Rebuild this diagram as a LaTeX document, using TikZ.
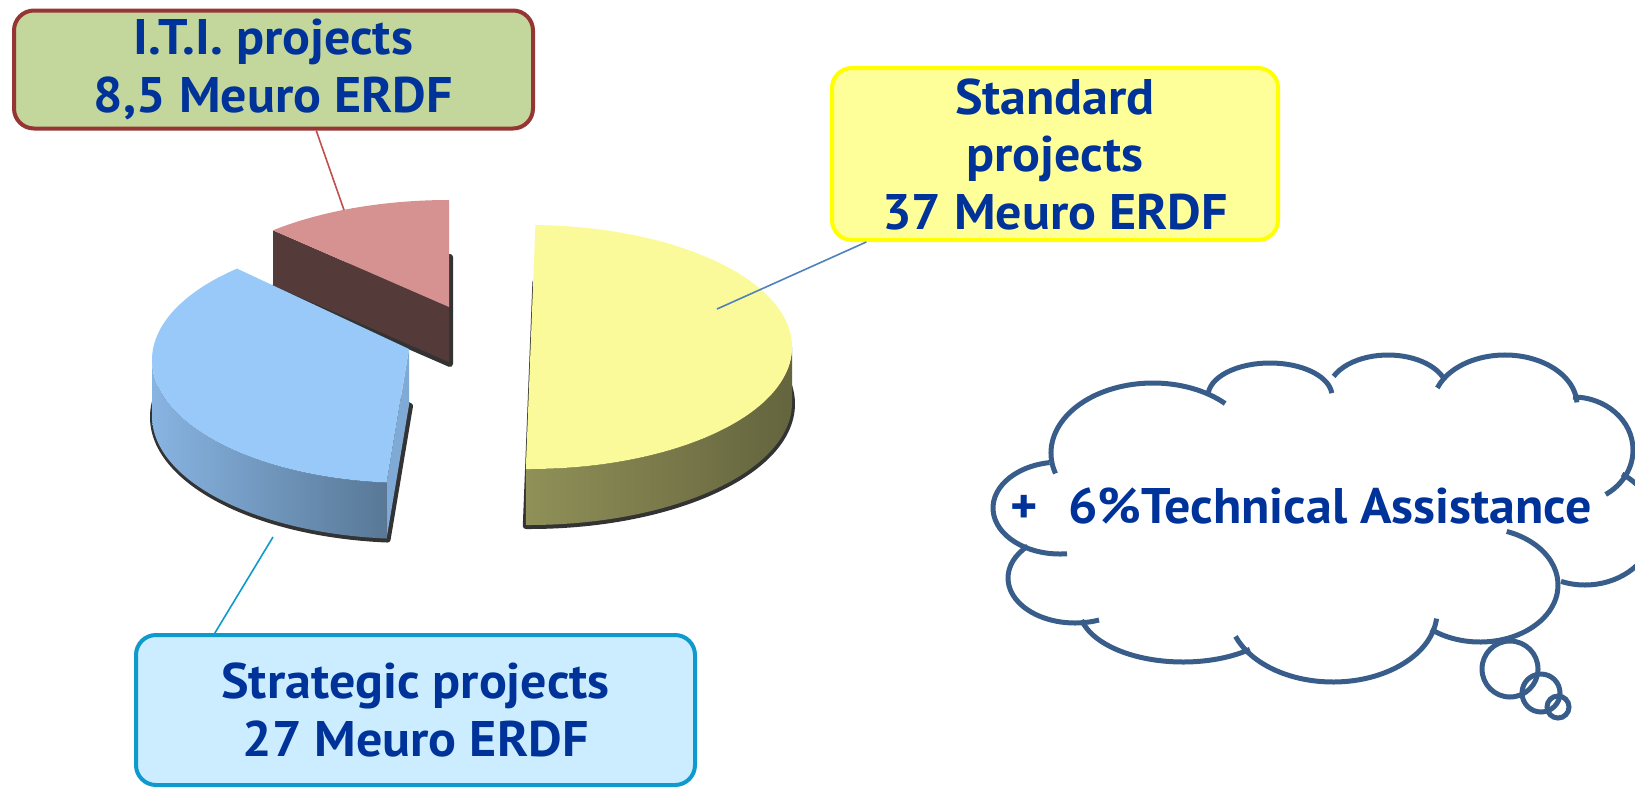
\documentclass[tikz,border=0pt]{standalone}
\usepackage{fontspec}
\setmainfont{PT Sans}[FakeStretch=1.04]
\usetikzlibrary{calc}
\definecolor{textblue}{HTML}{00339A}
\definecolor{itiedge}{HTML}{963634}
\definecolor{itifill}{HTML}{C3D69B}
\definecolor{stdedge}{HTML}{FFFF00}
\definecolor{stdfill}{HTML}{FFFF99}
\definecolor{stratedge}{HTML}{0E9ACD}
\definecolor{stratfill}{HTML}{CCECFF}
\definecolor{itiwire}{HTML}{C0504D}
\definecolor{stdwire}{HTML}{4F81BD}
\definecolor{cloudedge}{HTML}{385D8A}
\definecolor{yellowtop}{HTML}{FAFA9A}
\definecolor{yellowlight}{HTML}{909058}
\definecolor{yellowdark}{HTML}{64643E}
\definecolor{bluetop}{HTML}{99C9F8}
\definecolor{bluelight}{HTML}{88B4E2}
\definecolor{bluedark}{HTML}{587896}
\definecolor{blueface}{HTML}{80AAD6}
\definecolor{pinktop}{HTML}{D69291}
\definecolor{pinkface}{HTML}{553A3A}
\tikzset{
	label box/.style={draw, line width=4pt, rounded corners=20pt, align=center,
		inner sep=0pt, text=textblue,
		font=\fontsize{50}{57.5}\selectfont\bfseries},
	iti box/.style={label box, draw=itiedge, fill=itifill,
		minimum width=519pt, minimum height=118pt},
	std box/.style={label box, draw=stdedge, fill=stdfill,
		minimum width=446pt, minimum height=172pt},
	strat box/.style={label box, draw=stratedge, fill=stratfill,
		minimum width=559pt, minimum height=150pt},
	leader/.style={line width=1.6pt},
	cloud line/.style={draw=cloudedge, line width=5pt},
	cloud text/.style={inner sep=0pt, anchor=base, text=textblue,
		font=\fontsize{50}{57.5}\selectfont\bfseries},
	slice shadow/.style={fill=black!85, draw=black!80, line width=6pt, line join=round}
}
% top faces of the three slices
\newcommand\pinktopface{(449,307) -- ([shift={(449,318)}]228:263 and 118)
	arc[start angle=228, end angle=270, x radius=263, y radius=118] -- cycle}
\newcommand\bluetopface{(409,349) -- ([shift={(409,360)}]95:257 and 123)
	arc[start angle=95, end angle=228, x radius=257, y radius=123] -- cycle}
\newcommand\yellowtopface{([shift={(529,347)}]-88.6:263 and 122)
	arc[start angle=-88.6, end angle=90.7, x radius=263, y radius=122] -- cycle}

\begin{document}
\begin{tikzpicture}[x=1pt, y=-1pt]
   \useasboundingbox (0,0) rectangle (1635,788);

   % pie: back slice first
   \path[slice shadow, shift={(1,57)}] \pinktopface;
   \fill[pinkface] ([shift={(449,318)}]228:263 and 118) -- (449,307) -- ++(0,55)
      -- ([shift={(449,373)}]228:263 and 118) -- cycle;
   \fill[pinktop] \pinktopface;

   \path[slice shadow, shift={(1,57)}] \bluetopface;
   \shade[left color=bluelight, right color=bluedark]
      ([shift={(409,360)}]95:257 and 123) arc[start angle=95, end angle=180, x radius=257, y radius=123]
      -- ++(0,56) arc[start angle=180, end angle=95, x radius=257, y radius=123] -- cycle;
   \fill[blueface] (409,349) -- ([shift={(409,360)}]95:257 and 123) -- ++(0,56) -- (409,405) -- cycle;
   \fill[bluetop] \bluetopface;

   \path[slice shadow, shift={(0,57)}] \yellowtopface;
   \shade[left color=yellowlight, middle color=yellowdark, right color=yellowdark]
      ([shift={(529,347)}]0:263 and 122) arc[start angle=0, end angle=90.7, x radius=263, y radius=122]
      -- ++(0,56) arc[start angle=90.7, end angle=0, x radius=263, y radius=122] -- cycle;
   \fill[yellowtop] \yellowtopface;

   % labels
   \node[iti box] (iti) at (273.5,69.5) {I.T.I. projects\\8,5 Meuro ERDF};
   \node[std box] (std) at (1055,154) {Standard\\projects\\37 Meuro ERDF};
   \node[strat box] (strat) at (415.5,710) {Strategic projects\\27 Meuro ERDF};

   \coordinate (iti tip) at (344,210);
   \coordinate (std tip) at (717,309);
   \coordinate (strat tip) at (273,537);
   \draw[leader, itiwire] (iti.-55) -- (iti tip);
   \draw[leader, stdwire] (std.205) -- (std tip);
   \draw[leader, stratedge] (strat.159) -- (strat tip);

   % thought cloud, one arc per bump
   \foreach \cx/\cy/\rx/\ry/\a/\b in {
      1060/508/67/46/261/84, 1153/453/102/70/163/315, 1270/396/62/33/186/355,
      1388/392/60/37/205/336, 1505/405/72/50/200/357, 1573/450/60/53/270/417,
      1585/525/70/60/302/470, 1480/585/78/57/290/489, 1333/612/104/70/5.4/159.6,
      1183/608/104/54/50/167, 1075/578/67/45/225/69}
      \draw[cloud line] (\cx,\cy) ++({\rx*cos(\a)},{\ry*sin(\a)})
         arc[start angle=\a, end angle=\b, x radius=\rx, y radius=\ry];
   \draw[cloud line] (1510,669) circle[radius=28];
   \draw[cloud line] (1541,693) circle[radius=19];
   \draw[cloud line] (1558,707) circle[radius=11];

   \node[cloud text] (ta) at (1301.5,523) {+\hspace{30pt}6\%Technical Assistance};
\end{tikzpicture}
\end{document}
